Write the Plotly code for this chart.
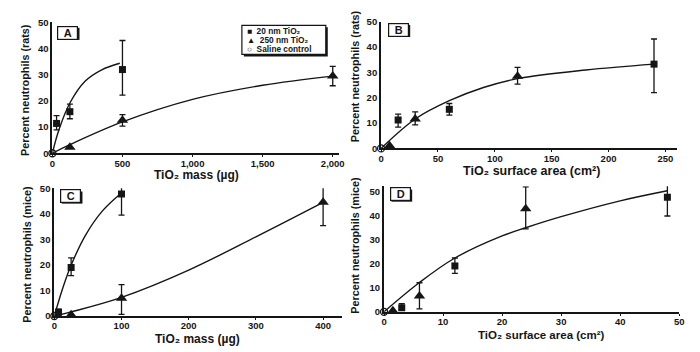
import plotly.graph_objects as go

# ---------------- data ----------------
# Panel A: rats, TiO2 mass (ug)
a_sq_x = [30, 125, 500]
a_sq_y = [11.4, 15.9, 32.0]
a_sq_up = [3.0, 2.9, 11.1]
a_sq_dn = [2.5, 2.7, 9.8]
a_tr_x = [125, 500, 2000]
a_tr_y = [2.3, 12.6, 29.5]
a_tr_up = [0, 2.2, 3.7]
a_tr_dn = [0, 2.2, 3.7]
a_fit20_x = [0, 47, 127, 235, 352, 481]
a_fit20_y = [0, 9.0, 19.4, 27.6, 31.9, 34.4]
a_fit250_x = [0, 125, 500, 1000, 1500, 2000]
a_fit250_y = [0, 3.3, 12.0, 20.6, 26.0, 29.5]

# Panel B: rats, surface area (cm2)
b_sq_x = [15, 60, 240]
b_sq_y = [11.2, 15.4, 33.2]
b_sq_up = [2.3, 2.3, 9.9]
b_sq_dn = [2.8, 2.3, 11.2]
b_tr_x = [7.5, 30, 120]
b_tr_y = [1.0, 11.6, 28.4]
b_tr_up = [0, 2.8, 3.5]
b_tr_dn = [0, 2.3, 3.1]
b_fit_x = [0, 30, 60, 90, 120, 180, 240]
b_fit_y = [0, 11.6, 18.8, 24.0, 27.5, 30.9, 33.2]

# Panel C: mice, TiO2 mass (ug)
c_sq_x = [6.25, 25, 100]
c_sq_y = [1.5, 19.0, 47.8]
c_sq_up = [1.2, 3.8, 7.2]
c_sq_dn = [1.2, 3.2, 8.3]
c_tr_x = [25, 100, 400]
c_tr_y = [0.5, 7.0, 44.6]
c_tr_up = [0, 5.3, 9.2]
c_tr_dn = [0, 6.4, 9.2]
c_fit20_x = [0, 12, 24.5, 46.5, 71, 98]
c_fit20_y = [0, 10.5, 19.6, 31.7, 41.0, 47.8]
c_fit250_x = [0, 25, 100, 200, 300, 400]
c_fit250_y = [0, 1.6, 7.3, 18.0, 31.0, 44.5]

# Panel D: mice, surface area (cm2)
d_sq_x = [3, 12, 48]
d_sq_y = [1.7, 19.1, 47.7]
d_sq_up = [1.7, 3.3, 7.2]
d_sq_dn = [1.0, 3.1, 7.8]
d_tr_x = [1.5, 6, 24]
d_tr_y = [0.5, 6.6, 42.9]
d_tr_up = [0, 5.5, 9.1]
d_tr_dn = [0, 5.4, 8.4]
d_fit_x = [0, 6, 12, 20, 24, 30, 40, 48]
d_fit_y = [0, 12.2, 22.4, 31.6, 35.0, 39.6, 46.2, 50.4]

ctrl_x = [0]
ctrl_y = [0]

y_ticks = [0, 10, 20, 30, 40, 50]
a_xticks = [0, 500, 1000, 1500, 2000]
a_xlabels = ["0", "500", "1,000", "1,500", "2,000"]
b_xticks = [0, 50, 100, 150, 200, 250]
c_xticks = [0, 100, 200, 300, 400]
d_xticks = [0, 10, 20, 30, 40, 50]

legend_names = ["20 nm TiO₂", "250 nm TiO₂", "Saline control"]
legend_glyphs = ["■", "▲", "○"]

mass_t = "TiO₂ mass (µg)"
area_t = "TiO₂ surface area (cm²)"
rats_t = "Percent neutrophils (rats)"
mice_t = "Percent neutrophils (mice)"

# ---------------- styling ----------------
INK = "#151515"
FONT = "Liberation Sans, Arial, sans-serif"

fig = go.Figure()

def add_panel(xa, ya, sqx, sqy, squp, sqdn, trx, try_, trup, trdn, fits):
    for fx, fy in fits:
        fig.add_trace(go.Scatter(x=fx, y=fy, mode="lines", line=dict(color=INK, width=1.4, shape="spline", smoothing=1.0),
                                 xaxis=xa, yaxis=ya, showlegend=False, hoverinfo="skip"))
    fig.add_trace(go.Scatter(x=sqx, y=sqy, mode="markers", name=legend_names[0],
                             marker=dict(symbol="square", size=7, color=INK),
                             error_y=dict(type="data", array=squp, arrayminus=sqdn, color=INK, thickness=1.3, width=3),
                             xaxis=xa, yaxis=ya, showlegend=False, cliponaxis=False))
    fig.add_trace(go.Scatter(x=trx, y=try_, mode="markers", name=legend_names[1],
                             marker=dict(symbol="triangle-up", size=10, color=INK),
                             error_y=dict(type="data", array=trup, arrayminus=trdn, color=INK, thickness=1.3, width=3),
                             xaxis=xa, yaxis=ya, showlegend=False, cliponaxis=False))
    fig.add_trace(go.Scatter(x=ctrl_x, y=ctrl_y, mode="markers", name=legend_names[2],
                             marker=dict(symbol="circle-open", size=7, color=INK, line=dict(width=1.3)),
                             xaxis=xa, yaxis=ya, showlegend=False, cliponaxis=False))

add_panel("x", "y", a_sq_x, a_sq_y, a_sq_up, a_sq_dn, a_tr_x, a_tr_y, a_tr_up, a_tr_dn,
          [(a_fit20_x, a_fit20_y), (a_fit250_x, a_fit250_y)])
add_panel("x2", "y2", b_sq_x, b_sq_y, b_sq_up, b_sq_dn, b_tr_x, b_tr_y, b_tr_up, b_tr_dn,
          [(b_fit_x, b_fit_y)])
add_panel("x3", "y3", c_sq_x, c_sq_y, c_sq_up, c_sq_dn, c_tr_x, c_tr_y, c_tr_up, c_tr_dn,
          [(c_fit20_x, c_fit20_y), (c_fit250_x, c_fit250_y)])
add_panel("x4", "y4", d_sq_x, d_sq_y, d_sq_up, d_sq_dn, d_tr_x, d_tr_y, d_tr_up, d_tr_dn,
          [(d_fit_x, d_fit_y)])

W, H = 700, 352

def px_x(v):
    return v / W

def px_y(v):
    return 1 - v / H

def xdom(l, r):
    return [l / W, r / W]

def ydom(bottom_px, top_px):
    return [1 - bottom_px / H, 1 - top_px / H]

def xaxis(dom, rng, ticks, labels, anchor):
    return dict(domain=dom, range=rng, tickvals=ticks, ticktext=labels, anchor=anchor,
                showline=True, linecolor=INK, linewidth=2, showgrid=False, zeroline=False,
                ticks="outside", ticklen=2, tickcolor=INK, tickwidth=1.2, ticklabelstandoff=-2,
                tickfont=dict(family=FONT, size=9.5, color=INK, weight="bold"))

def yaxis(dom, rng, anchor):
    return dict(domain=dom, range=rng, tickvals=y_ticks, anchor=anchor,
                showline=True, linecolor=INK, linewidth=2, showgrid=False, zeroline=False,
                ticks="", tickfont=dict(family=FONT, size=9.5, color=INK, weight="bold"))

fig.update_layout(
    width=W, height=H,
    margin=dict(l=0, r=0, t=0, b=0),
    paper_bgcolor="white", plot_bgcolor="rgba(0,0,0,0)",
    font=dict(family=FONT, color=INK),
    showlegend=False,
    xaxis=xaxis(xdom(50, 340), [0, 2042], a_xticks, a_xlabels, "y"),
    yaxis=yaxis(ydom(152, 17), [0, 50], "x"),
    xaxis2=xaxis(xdom(383, 683), [0, 260.4], b_xticks, [str(v) for v in b_xticks], "y2"),
    yaxis2=yaxis(ydom(147, 16), [0, 50], "x2"),
    xaxis3=xaxis(xdom(52, 343), [0, 427.5], c_xticks, [str(v) for v in c_xticks], "y3"),
    yaxis3=yaxis(ydom(320, 188), [0, 50.1], "x3"),
    xaxis4=xaxis(xdom(386, 685), [0, 50], d_xticks, [str(v) for v in d_xticks], "y4"),
    yaxis4=yaxis(ydom(315.7, 186), [0, 52.3], "x4"),
)

# axis titles as annotations: (text, x_px, y_px, size, angle)
axis_titles = [
    (mass_t, 196, 174, 12, 0),
    (area_t, 535, 170.5, 12.5, 0),
    (mass_t, 197, 343.5, 12, 0),
    (area_t, 546, 339.5, 11.5, 0),
    (rats_t, 23, 87, 10.8, -90),
    (rats_t, 356, 72, 10.8, -90),
    (mice_t, 24, 256, 10.8, -90),
    (mice_t, 357, 247, 10.8, -90),
]
for txt, xp, yp, sz, ang in axis_titles:
    fig.add_annotation(text="<b>" + txt + "</b>", x=px_x(xp), y=px_y(yp), xref="paper", yref="paper",
                       xanchor="center", yanchor="middle", showarrow=False, textangle=ang,
                       font=dict(family=FONT, size=sz, color=INK))

# legend box (panel A) drawn as shapes + text
lx0, lx1, ly0, ly1 = 242, 327, 20, 50
fig.add_shape(type="rect", xref="paper", yref="paper", x0=px_x(lx0 + 2), x1=px_x(lx1 + 2),
              y0=px_y(ly1 + 2), y1=px_y(ly0 + 2), fillcolor=INK, line=dict(width=0), layer="above")
fig.add_shape(type="rect", xref="paper", yref="paper", x0=px_x(lx0), x1=px_x(lx1),
              y0=px_y(ly1), y1=px_y(ly0), fillcolor="white", line=dict(color=INK, width=1.2), layer="above")
for i, (g, n) in enumerate(zip(legend_glyphs, legend_names)):
    fig.add_annotation(text="<b>" + g + "  " + n + "</b>", x=px_x(lx0 + 3), y=px_y(ly0 + 5.5 + 9.3 * i),
                       xref="paper", yref="paper", xanchor="left", yanchor="middle", showarrow=False,
                       font=dict(family=FONT, size=8.3, color=INK))

panel_labels = [("A", 55, 21), ("B", 390, 18), ("C", 58, 190), ("D", 392, 188)]
for txt, xp, yp in panel_labels:
    fig.add_shape(type="rect", xref="paper", yref="paper", x0=px_x(xp + 1.5), x1=px_x(xp + 22.5),
                  y0=px_y(yp + 14), y1=px_y(yp + 1.5), fillcolor=INK, line=dict(width=0))
    fig.add_annotation(text="<b>" + txt + "</b>", x=px_x(xp + 10.5), y=px_y(yp + 6.5), xref="paper", yref="paper",
                       xanchor="center", yanchor="middle", showarrow=False,
                       font=dict(family=FONT, size=11, color=INK),
                       bordercolor=INK, borderwidth=1.2, borderpad=0, bgcolor="white", width=19, height=12)

fig.write_html("out.html", config={"displayModeBar": False},
               post_script="document.body.style.margin='0';document.body.style.padding='0';")
